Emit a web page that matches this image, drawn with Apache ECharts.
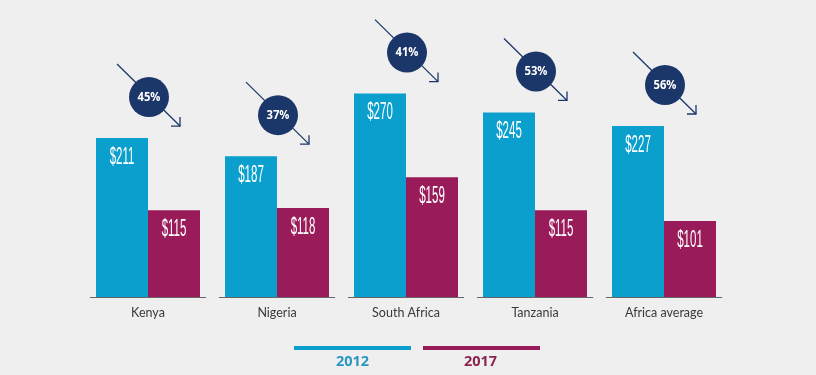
<!DOCTYPE html>
<html><head><meta charset="utf-8">
<script src="https://cdn.jsdelivr.net/npm/echarts@6/dist/echarts.min.js"></script>
<style>html,body{margin:0;padding:0;background:#efefef}#c{width:816px;height:375px}</style>
</head><body><div id="c"></div>
<script>
var categories = ['Kenya', 'Nigeria', 'South Africa', 'Tanzania', 'Africa average'];
var values2012 = [211, 187, 270, 245, 227];
var values2017 = [115, 118, 159, 115, 101];
var declinePct = ['45%', '37%', '41%', '53%', '56%'];
var legendNames = ['2012', '2017'];

var BLUE = '#0a9fcd', MAROON = '#9a1b59', NAVY = '#1b3769';
var chart = echarts.init(document.getElementById('c'));

var baseData = categories.map(function (c, i) { return [i, 0]; });
var bubbleData = categories.map(function (c, i) { return [i, values2012[i], declinePct[i]]; });
var labelData = [];
categories.forEach(function (c, i) {
  labelData.push([i, values2012[i], -1]);
  labelData.push([i, values2017[i], 1]);
});

chart.setOption({
  backgroundColor: '#efefef',
  animation: false,
  grid: { left: 83.5, right: 87.5, top: 71, bottom: 78 },
  xAxis: {
    type: 'category', data: categories,
    axisLine: { show: false }, axisTick: { show: false },
    axisLabel: { color: '#3a3a3a', fontSize: 12.5, fontFamily: 'Lato', margin: 9 }
  },
  yAxis: { type: 'value', min: 0, max: 300, show: false, splitLine: { show: false } },
  series: [
    {
      name: legendNames[0], type: 'bar', data: values2012, barWidth: 52, barGap: '0%',
      itemStyle: { color: BLUE }
    },
    {
      name: legendNames[1], type: 'bar', data: values2017, barWidth: 52,
      itemStyle: { color: MAROON }
    },
    {
      type: 'custom', data: labelData, silent: true, z: 8,
      renderItem: function (params, api) {
        var p = api.coord([api.value(0), api.value(1)]);
        var x = p[0] + api.value(2) * 26;
        return { type: 'text', x: x, y: p[1] + 8, scaleX: 0.5,
          style: { x: 0, y: 0, text: '$' + api.value(1), fill: '#fff',
            font: '23px "Liberation Sans"', textAlign: 'center', textVerticalAlign: 'top' } };
      }
    },
    {
      type: 'custom', data: baseData, silent: true, z: 5,
      renderItem: function (params, api) {
        var p = api.coord([api.value(0), 0]);
        var w = api.size([1, 0])[0];
        return { type: 'line', shape: { x1: p[0] - w * 0.45, y1: p[1] + 0.5, x2: p[0] + w * 0.45, y2: p[1] + 0.5 },
          style: { stroke: '#666', lineWidth: 1 } };
      }
    },
    {
      type: 'custom', data: bubbleData, silent: true, z: 10,
      renderItem: function (params, api) {
        var p = api.coord([api.value(0), api.value(1)]);
        var cx = p[0] + 1, cy = p[1] - 41;
        var x1 = cx - 32, y1 = cy - 33, x2 = cx + 31, y2 = cy + 29;
        return { type: 'group', children: [
          { type: 'line', shape: { x1: x1, y1: y1, x2: x2, y2: y2 }, style: { stroke: NAVY, lineWidth: 1.3 } },
          { type: 'polyline', shape: { points: [[x2 - 9, y2], [x2, y2], [x2, y2 - 9]] }, style: { stroke: NAVY, lineWidth: 1.3, fill: null } },
          { type: 'circle', shape: { cx: cx, cy: cy, r: 20 }, style: { fill: NAVY } },
          { type: 'text', x: cx, y: cy, scaleX: 0.9, style: { x: 0, y: 0, text: api.value(2), fill: '#fff', font: 'bold 12.5px "Open Sans"', textAlign: 'center', textVerticalAlign: 'middle' } }
        ] };
      }
    }
  ],
  graphic: [
    { type: 'rect', left: 294, top: 346, shape: { width: 117, height: 4 }, style: { fill: BLUE } },
    { type: 'rect', left: 423, top: 346, shape: { width: 117, height: 4 }, style: { fill: MAROON } },
    { type: 'text', left: 336, top: 354, style: { text: legendNames[0], fill: '#2a96c2', font: 'bold 14.5px "Open Sans"' } },
    { type: 'text', left: 464, top: 354, style: { text: legendNames[1], fill: '#8c2452', font: 'bold 14.5px "Open Sans"' } }
  ]
});
</script></body></html>
